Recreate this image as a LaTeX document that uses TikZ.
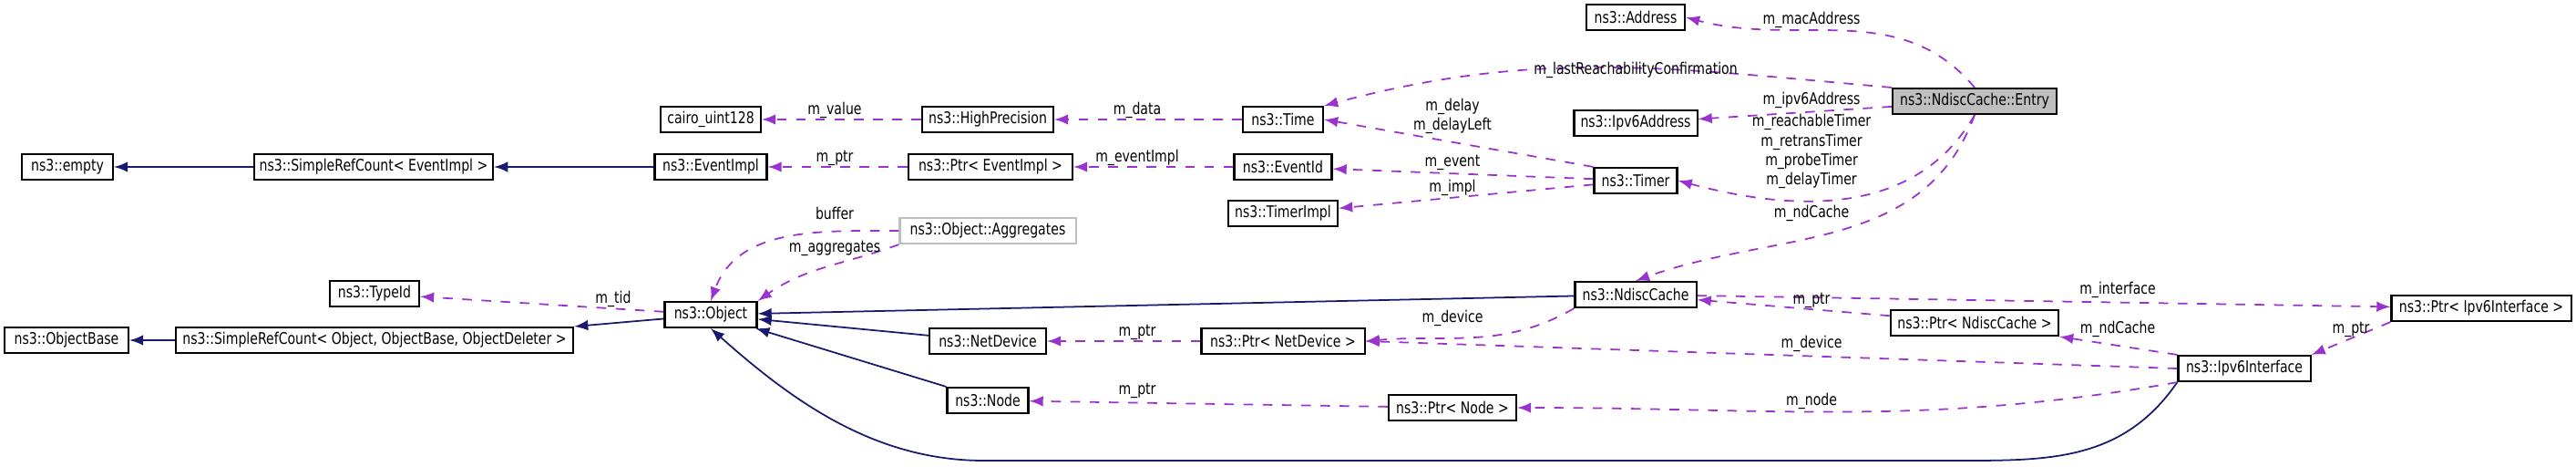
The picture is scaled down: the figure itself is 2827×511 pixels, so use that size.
\documentclass[tikz,border=0pt]{standalone}
\usepackage{fontspec}
\setmainfont{DejaVu Sans}[FakeStretch=0.8]
\definecolor{inh}{HTML}{191970}
\definecolor{use}{HTML}{9A32CD}
\begin{document}
\begin{tikzpicture}[x=0.01cm, y=-0.01cm, -latex, semithick,
main/.style = {draw, rectangle, minimum height=0.28cm, inner sep=1pt, font=\fontsize{5}{6}\selectfont},
lbl/.style = {font=\fontsize{5}{6}\selectfont, inner sep=0pt, align=center},
inherit/.style = {draw=inh, line width=0.5pt},
member/.style = {draw=use, dashed, line width=0.5pt}]
\useasboundingbox (0,0) rectangle (2827,511);
    \node[main, minimum width=1.00cm] (1) at (74,183) {ns3::empty};
    \node[main, minimum width=2.62cm] (2) at (410,183) {ns3::SimpleRefCount< EventImpl >};
    \node[main, minimum width=1.23cm] (3) at (780,183) {ns3::EventImpl};
    \node[main, minimum width=1.10cm] (4) at (780,131) {cairo\_uint128};
    \node[main, minimum width=1.01cm] (5) at (780,345) {ns3::Object};
    \node[main, minimum width=0.98cm] (6) at (411,322) {ns3::TypeId};
    \node[main, minimum width=1.36cm] (7) at (73,373) {ns3::ObjectBase};
    \node[main, minimum width=4.36cm] (8) at (411,373) {ns3::SimpleRefCount< Object, ObjectBase, ObjectDeleter >};

    \node[main, minimum width=1.08cm] (9) at (1795,19) {ns3::Address};
    \node[main, minimum width=1.44cm] (10) at (1084,131) {ns3::HighPrecision};
    \node[main, minimum width=0.88cm] (11) at (1408,131) {ns3::Time};
    \node[main, minimum width=1.35cm] (12) at (1795,135) {ns3::Ipv6Address};
    \node[main, minimum width=1.80cm] (13) at (1087,183) {ns3::Ptr< EventImpl >};
    \node[main, minimum width=1.07cm] (14) at (1408,183) {ns3::EventId};
    \node[main, minimum width=0.91cm] (15) at (1795,198) {ns3::Timer};
    \node[main, minimum width=1.20cm] (16) at (1408,234) {ns3::TimerImpl};
    \node[main, minimum width=1.93cm, draw=black!25] (17) at (1084,253) {ns3::Object::Aggregates};
    \node[main, minimum width=1.33cm] (18) at (1795,323) {ns3::NdiscCache};
    \node[main, minimum width=1.28cm] (19) at (1084,374) {ns3::NetDevice};
    \node[main, minimum width=1.79cm] (20) at (1408,374) {ns3::Ptr< NetDevice >};
    \node[main, minimum width=0.89cm] (21) at (1084,439) {ns3::Node};
    \node[main, minimum width=1.40cm] (22) at (1594,447) {ns3::Ptr< Node >};

    \node[main, minimum width=1.80cm, fill=black!25] (23) at (2167,111) {ns3::NdiscCache::Entry};
    \node[main, minimum width=1.97cm] (24) at (2723,338) {ns3::Ptr< Ipv6Interface >};
    \node[main, minimum width=1.84cm] (25) at (2167,354) {ns3::Ptr< NdiscCache >};
    \node[main, minimum width=1.45cm] (26) at (2463,404) {ns3::Ipv6Interface};

    % inheritance
    \draw[inherit] (2) -- (1);
    \draw[inherit] (3) -- (2);
    \draw[inherit] (5) -- (8.north east);
    \draw[inherit] (8) -- (7);
    \draw[inherit] (18) -- (5);
    \draw[inherit] (19) -- (5);
    \draw[inherit] (21.north west) -- (5);
    \draw[inherit] (26.south west) .. controls (2330,505) and (2250,505) .. (2150,505) -- (1080,505)
        .. controls (960,505) and (870,440) .. (5.south);

    % members
    \draw[member] (23.north) to[out=130, in=-15] (9.east);
    \draw[member] (23.north west) to[out=175, in=15] (11.north east);
    \draw[member] (23) -- (12);
    \draw[member] (23.south) to[out=-120, in=-15] (15.east);
    \draw[member] (23.south) to[out=-110, in=20] (18.north);
    \draw[member] (11) -- (10);
    \draw[member] (10) -- (4);
    \draw[member] (15.north west) -- (11.east);
    \draw[member] (15) -- (14);
    \draw[member] (15) -- (16);
    \draw[member] (14) -- (13);
    \draw[member] (13) -- (3);
    \draw[member] (17.west) to[out=180, in=70] (5.north);
    \draw[member] (17.south west) to[out=200, in=35] (5.north east);
    \draw[member] (5) -- (6);
    \draw[member] (18.south west) to[out=-150, in=5] (20.east);
    \draw[member] (20) -- (19);
    \draw[member] (22) -- (21);
    \draw[member] (26.west) -- (20.east);
    \draw[member] (26.south west) to[out=-170, in=0] (22.east);
    \draw[member] (18) -- (24);
    \draw[member] (25) -- (18);
    \draw[member] (26.north west) -- (25.south east);
    \draw[member] (24.south west) -- (26.north east);

    \node[lbl] (l1) at (916,121) {m\_value};
    \node[lbl] (l2) at (916,173) {m\_ptr};
    \node[lbl] (l3) at (916,234) {buffer};
    \node[lbl] (l4) at (916,272) {m\_aggregates};
    \node[lbl] (l5) at (673,328) {m\_tid};
    \node[lbl] (l6) at (1795,77) {m\_lastReachabilityConfirmation};
    \node[lbl] (l7) at (1248,121) {m\_data};
    \node[lbl] (l8) at (1594,127) {m\_delay\\m\_delayLeft};
    \node[lbl] (l9) at (1248,173) {m\_eventImpl};
    \node[lbl] (l10) at (1594,178) {m\_event};
    \node[lbl] (l11) at (1594,206) {m\_impl};
    \node[lbl] (l12) at (1594,349) {m\_device};
    \node[lbl] (l13) at (1248,364) {m\_ptr};
    \node[lbl] (l14) at (1248,428) {m\_ptr};
    \node[lbl] (l15) at (1988,22) {m\_macAddress};
    \node[lbl] (l16) at (1988,110) {m\_ipv6Address};
    \node[lbl] (l17) at (1988,166) {m\_reachableTimer\\m\_retransTimer\\m\_probeTimer\\m\_delayTimer};
    \node[lbl] (l18) at (1988,234) {m\_ndCache};
    \node[lbl] (l19) at (2324,318) {m\_interface};
    \node[lbl] (l20) at (1988,329) {m\_ptr};
    \node[lbl] (l21) at (2324,361) {m\_ndCache};
    \node[lbl] (l22) at (1988,377) {m\_device};
    \node[lbl] (l23) at (1988,440) {m\_node};
    \node[lbl] (l24) at (2580,361) {m\_ptr};
\end{tikzpicture}
\end{document}
